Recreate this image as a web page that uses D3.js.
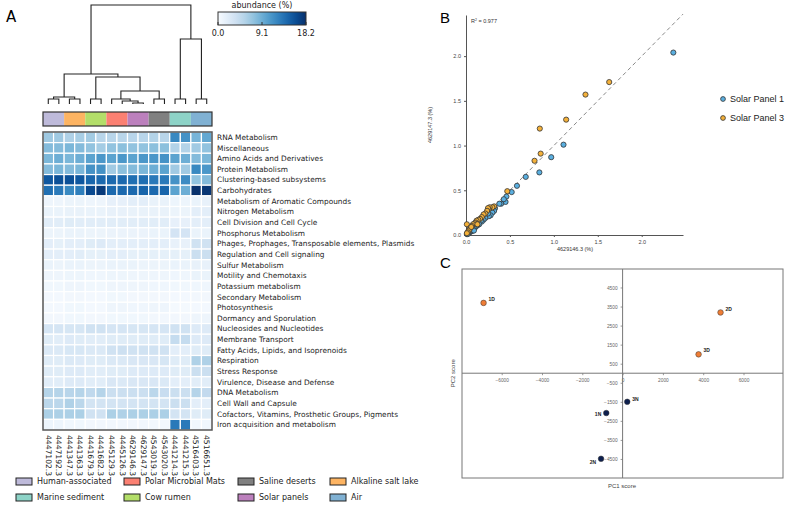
<!DOCTYPE html>
<html><head><meta charset="utf-8">
<script src="https://cdn.jsdelivr.net/npm/d3@7"></script>
<style>body{margin:0;background:#fff}svg{display:block}</style>
</head><body>
<script>
// ---------- DATA ----------
const samples = ["4447102.3","4447192.3","4441347.3","4441363.3","4441679.3","4441682.3","4445129.3","4445126.3","4629146.3","4629147.3","4543019.3","4543020.3","4441214.3","4441215.3","4516403.3","4516651.3"];
const groups = ["Human-associated","Alkaline salt lake","Cow rumen","Polar Microbial Mats","Solar panels","Saline deserts","Marine sediment","Air"];
const groupColors = ["#bebada","#fdb462","#b3de69","#fb8072","#bc80bd","#808080","#8dd3c7","#80b1d3"];
const legendOrder = ["Human-associated","Marine sediment","Polar Microbial Mats","Cow rumen","Saline deserts","Solar panels","Alkaline salt lake","Air"];
const subsystems = ["RNA Metabolism","Miscellaneous","Amino Acids and Derivatives","Protein Metabolism","Clustering-based subsystems","Carbohydrates","Metabolism of Aromatic Compounds","Nitrogen Metabolism","Cell Division and Cell Cycle","Phosphorus Metabolism","Phages, Prophages, Transposable elements, Plasmids","Regulation and Cell signaling","Sulfur Metabolism","Motility and Chemotaxis","Potassium metabolism","Secondary Metabolism","Photosynthesis","Dormancy and Sporulation","Nucleosides and Nucleotides","Membrane Transport","Fatty Acids, Lipids, and Isoprenoids","Respiration","Stress Response","Virulence, Disease and Defense","DNA Metabolism","Cell Wall and Capsule","Cofactors, Vitamins, Prosthetic Groups, Pigments","Iron acquisition and metabolism"];
const abundance = [
 [6.7,6.7,5.8,6.2,6.5,5.3,5.3,5.3,5.3,5.3,5.6,5.3,12.0,11.3,8.6,9.6],
 [8.0,8.0,8.4,8.0,7.3,6.4,7.3,7.6,7.3,7.3,7.6,7.6,5.6,5.6,6.6,7.3],
 [8.4,9.1,8.4,9.1,10.0,10.9,10.0,10.9,10.0,10.9,10.9,11.3,10.0,9.1,8.0,8.4],
 [8.0,8.4,8.0,8.4,11.3,11.3,6.6,7.6,8.0,8.4,9.1,10.0,6.6,6.6,12.0,10.9],
 [15.5,16.0,16.0,15.5,14.4,14.2,14.2,14.2,13.8,13.8,13.1,13.1,11.3,11.8,7.3,8.0],
 [13.8,13.1,12.0,12.7,16.4,17.5,14.2,14.2,14.2,14.6,14.2,14.6,10.0,9.1,18.2,17.8],
 [0.8,0.8,1.0,1.0,0.8,0.8,1.5,1.5,1.8,1.8,1.3,1.3,0.9,0.9,1.2,1.4],
 [1.2,1.2,1.3,1.3,1.2,1.2,1.4,1.4,1.3,1.3,1.3,1.3,1.0,1.0,1.8,1.8],
 [2.0,2.0,2.2,2.0,2.0,2.0,2.0,2.0,2.0,2.0,2.0,2.0,1.5,1.5,1.8,1.8],
 [1.0,1.0,1.2,1.2,1.0,1.0,1.1,1.1,1.1,1.1,1.2,1.2,3.2,3.2,1.2,1.2],
 [1.8,1.6,1.8,1.8,2.2,2.4,1.8,1.8,1.8,1.8,1.8,1.8,1.4,1.4,3.6,3.6],
 [1.8,1.8,1.8,2.0,1.6,1.6,1.8,1.8,1.6,1.6,1.6,1.6,1.6,1.6,4.0,4.0],
 [1.2,1.0,1.2,1.2,1.0,1.0,1.2,1.2,1.2,1.0,1.0,1.0,1.2,1.2,1.4,1.4],
 [0.8,0.8,0.9,0.9,0.7,0.7,0.9,0.9,0.8,0.8,0.8,0.8,0.7,0.7,1.2,1.2],
 [0.6,0.6,0.8,0.8,0.6,0.6,0.8,0.8,0.8,0.8,0.7,0.7,0.6,0.6,0.7,0.7],
 [0.4,0.4,0.5,0.5,0.4,0.4,0.6,0.6,0.5,0.5,0.5,0.5,0.4,0.4,0.5,0.5],
 [0.4,0.4,0.6,0.6,0.4,0.4,0.8,0.8,0.7,0.7,0.8,0.8,0.3,0.3,0.4,0.4],
 [0.5,0.5,0.6,0.6,0.5,0.5,0.6,0.6,0.6,0.6,0.5,0.5,0.5,0.5,0.8,0.8],
 [3.1,3.1,3.0,3.0,3.6,3.6,3.1,3.1,3.0,3.0,3.1,3.1,3.6,3.6,2.4,2.4],
 [2.2,2.0,2.4,2.2,2.0,2.0,2.2,2.2,2.2,2.2,2.2,2.2,4.4,4.4,2.4,2.4],
 [2.6,2.6,2.9,2.9,2.6,2.6,3.6,3.8,3.6,3.6,3.6,3.6,1.8,1.8,2.2,2.2],
 [2.2,2.2,2.6,2.4,2.2,2.2,2.6,2.6,2.8,2.8,2.8,3.0,2.2,2.2,5.8,5.8],
 [2.2,2.2,2.4,2.4,2.0,2.0,2.2,2.2,2.4,2.4,2.4,2.4,2.2,2.2,4.0,4.0],
 [2.0,2.0,2.4,2.4,2.0,2.0,2.8,2.6,2.8,2.8,2.8,2.6,1.8,1.8,2.0,2.0],
 [5.5,5.5,5.3,5.5,4.8,5.5,4.0,4.0,4.0,4.0,5.1,4.2,4.0,4.0,5.5,4.6],
 [5.1,5.1,5.8,5.1,3.3,3.3,3.3,3.3,3.3,3.3,3.3,3.3,4.0,4.0,1.8,1.8],
 [6.0,6.0,6.0,6.0,3.6,3.6,6.0,5.8,6.0,6.0,6.0,6.0,3.3,3.3,2.2,2.2],
 [0.9,0.9,0.6,0.6,0.5,0.5,0.5,0.5,0.5,0.5,0.5,0.5,13.1,13.1,0.6,0.6]
];
const colorMax = 18.2;
const colorbarTicks = [0.0, 9.1, 18.2];
// dendrogram merges: [left, right, height]; leaves 0..15, new nodes 16..
const linkage = [
 [8, 9, 1], [7, 16, 3], [6, 17, 5],
 [0, 1, 5], [2, 3, 5], [4, 5, 5], [10, 11, 5], [12, 13, 5], [14, 15, 5],
 [19, 20, 7], [18, 22, 13], [21, 26, 27], [25, 27, 30], [23, 24, 65], [28, 29, 99]
];
// Panel B
const panel1 = [[2.36,2.04],[1.11,1.01],[0.97,0.87],[0.835,0.70],[0.68,0.65],[0.58,0.55],[0.52,0.48],[0.46,0.43],[0.45,0.37],[0.43,0.40],[0.40,0.35],[0.38,0.35],[0.33,0.30],[0.32,0.27],[0.30,0.25],[0.28,0.22],[0.26,0.21],[0.25,0.24],[0.22,0.19],[0.20,0.17],[0.18,0.15],[0.17,0.16],[0.15,0.12],[0.13,0.11],[0.12,0.10],[0.10,0.08],[0.09,0.07],[0.08,0.05],[0.07,0.06],[0.06,0.04],[0.05,0.04],[0.04,0.03],[0.03,0.02],[0.02,0.02],[0.01,0.01],[0.02,0.01],[0.06,0.06],[0.09,0.05]];
const panel3 = [[1.63,1.71],[1.36,1.57],[1.14,1.29],[0.84,1.19],[0.85,0.91],[0.78,0.83],[0.47,0.49],[0.01,0.12],[0.32,0.32],[0.30,0.31],[0.27,0.31],[0.26,0.29],[0.25,0.30],[0.24,0.27],[0.22,0.24],[0.20,0.23],[0.18,0.20],[0.16,0.18],[0.14,0.17],[0.12,0.16],[0.11,0.14],[0.10,0.13],[0.08,0.12],[0.07,0.10],[0.05,0.08],[0.04,0.06],[0.03,0.05],[0.02,0.03],[0.01,0.02],[0.13,0.12],[0.06,0.09]];
const seriesNames = ["Solar Panel 1","Solar Panel 3"];
const seriesColors = ["#5aafe0","#f4b13a"];
const bTicks = [0.0,0.5,1.0,1.5,2.0];
const r2Text = "0.977";
// Panel C
const pcaLabels = ["1D","2D","3D","1N","2N","3N"];
const pc1 = [-6900, 4860, 3770, -810, -1070, 230];
const pc2 = [3690, 3190, 990, -2090, -4490, -1500];
const pcaColors = ["#ef7d35","#ef7d35","#ef7d35","#0d1f4e","#0d1f4e","#0d1f4e"];
const cXTicks = [-6000,-4000,-2000,0,2000,4000,6000];
const cYTicks = [4500,3500,2500,1500,500,-500,-1500,-2500,-3500,-4500];

// ---------- DRAW ----------
const svg = d3.select("body").append("svg").attr("width",787).attr("height",505)
  .style("font-family","'DejaVu Sans', sans-serif");

// Panel A
svg.append("text").attr("x",6).attr("y",22).attr("font-size",15).text("A");
const hx = d3.scaleBand().domain(d3.range(samples.length)).range([43,212]);
const hy = d3.scaleBand().domain(d3.range(subsystems.length)).range([132,430]);
const color = d3.scaleSequential(d3.interpolateBlues).domain([0,colorMax]);

const cells = [];
abundance.forEach((row,i)=>row.forEach((v,j)=>cells.push({i,j,v})));
svg.append("g").selectAll("rect").data(cells).join("rect")
  .attr("x",d=>hx(d.j)).attr("y",d=>hy(d.i))
  .attr("width",hx.bandwidth()).attr("height",hy.bandwidth())
  .attr("fill",d=>color(d.v)).attr("stroke","#fff").attr("stroke-width",1.2);
svg.append("rect").attr("x",43).attr("y",132).attr("width",169).attr("height",298)
  .attr("fill","none").attr("stroke","#555").attr("stroke-width",1.5);

svg.append("g").selectAll("text").data(subsystems).join("text")
  .attr("x",217).attr("y",(d,i)=>hy(i)+hy.bandwidth()/2).attr("dy","0.35em")
  .attr("font-size",7.4).attr("fill","#222").text(d=>d);

svg.append("g").selectAll("text").data(samples).join("text")
  .attr("transform",(d,i)=>`translate(${hx(i)+hx.bandwidth()/2},435) rotate(90)`)
  .attr("dy","0.35em").attr("font-size",7.6).attr("fill","#222").text(d=>d);

// group color strip
svg.append("g").selectAll("rect").data(groups).join("rect")
  .attr("x",(d,i)=>hx(2*i)).attr("y",112).attr("width",hx.bandwidth()*2).attr("height",14)
  .attr("fill",(d,i)=>groupColors[i]);
svg.append("rect").attr("x",43).attr("y",112).attr("width",169).attr("height",14)
  .attr("fill","none").attr("stroke","#333").attr("stroke-width",1.2);

// dendrogram
const nodeX = [], nodeH = [];
samples.forEach((s,i)=>{nodeX[i]=hx(i)+hx.bandwidth()/2; nodeH[i]=0;});
const dy = d3.scaleLinear().domain([0,99]).range([104,5]);
const dg = svg.append("g").attr("fill","none").attr("stroke","#222").attr("stroke-width",1.1);
linkage.forEach((m,k)=>{
  const [a,b,h]=m; const id=samples.length+k;
  nodeX[id]=(nodeX[a]+nodeX[b])/2; nodeH[id]=h;
  dg.append("path").attr("d",`M${nodeX[a]},${dy(nodeH[a])}V${dy(h)}H${nodeX[b]}V${dy(nodeH[b])}`);
});

// colorbar
const cbx = d3.scaleLinear().domain([0,colorMax]).range([218,306]);
const grad = svg.append("defs").append("linearGradient").attr("id","cb");
d3.range(0,1.01,0.1).forEach(t=>grad.append("stop").attr("offset",t).attr("stop-color",d3.interpolateBlues(t)));
svg.append("rect").attr("x",218).attr("y",12).attr("width",88).attr("height",13)
  .attr("fill","url(#cb)").attr("stroke","#333").attr("stroke-width",1);
svg.append("text").attr("x",262).attr("y",8).attr("text-anchor","middle").attr("font-size",8).attr("fill","#222").text("abundance (%)");
colorbarTicks.forEach(t=>{
  svg.append("line").attr("x1",cbx(t)).attr("x2",cbx(t)).attr("y1",25).attr("y2",22).attr("stroke","#333");
  svg.append("text").attr("x",cbx(t)).attr("y",36).attr("text-anchor","middle").attr("font-size",8).attr("fill","#222").text(t.toFixed(1));
});

// legend
const lg = svg.append("g");
const legX = [16,124,238,330];
legendOrder.forEach((name,k)=>{
  const col=Math.floor(k/2), row=k%2;
  const gi = groups.indexOf(name);
  const x=legX[col], y=478+row*16;
  lg.append("rect").attr("x",x).attr("y",y).attr("width",16).attr("height",7)
    .attr("fill",groupColors[gi]).attr("stroke","#222").attr("stroke-width",1);
  lg.append("text").attr("x",x+21).attr("y",y+3.5).attr("dy","0.35em").attr("font-size",8).attr("fill","#222").text(name);
});

// Panel B
svg.append("text").attr("x",440).attr("y",23).attr("font-size",15).style("font-family","'Liberation Sans', Arial, sans-serif").text("B");
const bx = d3.scaleLinear().domain([0,2.47]).range([466,683]);
const by = d3.scaleLinear().domain([0,2.46]).range([235,15]);
const bg = svg.append("g").style("font-family","'Liberation Sans', Arial, sans-serif");
const xAxB = bg.append("g").attr("transform","translate(0,235)").call(d3.axisBottom(bx).tickValues(bTicks).tickFormat(d3.format(".1f")).tickSize(2).tickSizeOuter(0));
const yAxB = bg.append("g").attr("transform","translate(466,0)").call(d3.axisLeft(by).tickValues(bTicks).tickFormat(d3.format(".1f")).tickSize(2).tickSizeOuter(0));
[xAxB,yAxB].forEach(a=>{a.selectAll("text").attr("font-size",5.5).attr("fill","#444");a.selectAll("path,line").attr("stroke","#555");});
bg.append("line").attr("x1",bx(0)).attr("y1",by(0)).attr("x2",bx(2.47)).attr("y2",by(2.47))
  .attr("stroke","#888").attr("stroke-dasharray","4,3").attr("stroke-width",1);
bg.append("text").attr("x",471).attr("y",23).attr("font-size",5.5).attr("fill","#333").html("R<tspan dy='-2' font-size='3.5'>2</tspan><tspan dy='2'> = "+r2Text+"</tspan>");
bg.append("text").attr("x",575).attr("y",251).attr("text-anchor","middle").attr("font-size",5.5).attr("fill","#333").text("4629146.3 (%)");
bg.append("text").attr("transform","translate(432,125) rotate(-90)").attr("text-anchor","middle").attr("font-size",5.5).attr("fill","#333").text("4629147.3 (%)");
[panel1,panel3].forEach((pts,s)=>{
  bg.append("g").selectAll("circle").data(pts).join("circle")
    .attr("cx",d=>bx(d[0])).attr("cy",d=>by(d[1])).attr("r",2.6)
    .attr("fill",seriesColors[s]).attr("stroke","#333").attr("stroke-width",0.8);
  bg.append("circle").attr("cx",723).attr("cy",99+s*19).attr("r",2.4).attr("fill",seriesColors[s]).attr("stroke","#333").attr("stroke-width",0.8);
  bg.append("text").attr("x",730).attr("y",99+s*19).attr("dy","0.35em").attr("font-size",9).attr("fill","#222").text(seriesNames[s]);
});

// Panel C
const cg = svg.append("g").style("font-family","'Liberation Sans', Arial, sans-serif");
cg.append("text").attr("x",440).attr("y",268).attr("font-size",15).text("C");
const cx = d3.scaleLinear().domain([-7970,7960]).range([462,783]);
const cy = d3.scaleLinear().domain([-5500,5470]).range([478,269]);
cg.append("rect").attr("x",462).attr("y",269).attr("width",321).attr("height",209).attr("fill","none").attr("stroke","#777").attr("stroke-width",1);
const xAxC = cg.append("g").attr("transform",`translate(0,${cy(0)})`).call(d3.axisBottom(cx).tickValues(cXTicks).tickSize(2).tickSizeOuter(0).tickFormat(d3.format("d")));
const yAxC = cg.append("g").attr("transform",`translate(${cx(0)},0)`).call(d3.axisLeft(cy).tickValues(cYTicks).tickSize(2).tickSizeOuter(0).tickFormat(d3.format("d")));
[xAxC,yAxC].forEach(a=>{a.selectAll("text").attr("font-size",4.8).attr("fill","#666");a.selectAll("line").attr("stroke","#999");a.select(".domain").remove();});
cg.append("line").attr("x1",462).attr("x2",783).attr("y1",cy(0)).attr("y2",cy(0)).attr("stroke","#777").attr("stroke-width",1);
cg.append("line").attr("x1",cx(0)).attr("x2",cx(0)).attr("y1",269).attr("y2",478).attr("stroke","#777").attr("stroke-width",1);
cg.append("text").attr("x",622).attr("y",488).attr("text-anchor","middle").attr("font-size",6).attr("fill","#444").text("PC1 score");
cg.append("text").attr("transform",`translate(455,${cy(0)}) rotate(-90)`).attr("text-anchor","middle").attr("font-size",6).attr("fill","#444").text("PC2 score");
const lblOff = {"1D":[5,-4,"start"],"2D":[5,-3,"start"],"3D":[5,-4,"start"],"3N":[5,-3,"start"],"1N":[-5,1,"end"],"2N":[-5,3,"end"]};
pcaLabels.forEach((l,i)=>{
  cg.append("circle").attr("cx",cx(pc1[i])).attr("cy",cy(pc2[i])).attr("r",2.8).attr("fill",pcaColors[i]).attr("stroke","#333").attr("stroke-width",0.5);
  const o=lblOff[l];
  cg.append("text").attr("x",cx(pc1[i])+o[0]).attr("y",cy(pc2[i])+o[1]).attr("dy","0.35em").attr("text-anchor",o[2]).attr("font-size",5).attr("font-weight","bold").attr("fill","#222").text(l);
});
</script>
</body></html>
